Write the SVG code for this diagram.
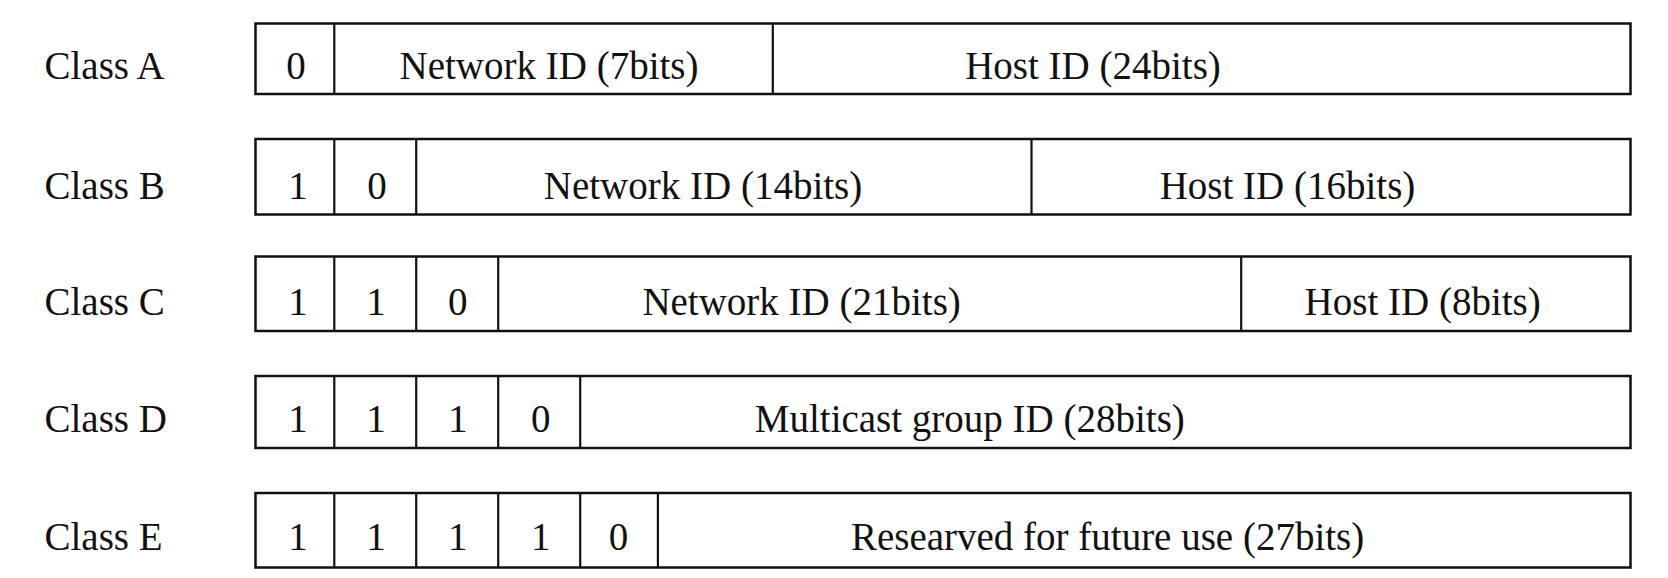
<svg xmlns="http://www.w3.org/2000/svg" width="1668" height="578" viewBox="0 0 1668 578">
<style>
text{font-family:"Liberation Serif","Times New Roman",serif;font-size:39px;fill:#111}
.c{text-anchor:middle}
.box{fill:#fff;stroke:#111;stroke-width:2.5}
.div{stroke:#111;stroke-width:2.2}
</style>
<rect width="1668" height="578" fill="#fff"/>
<g id="classA">
<text x="44.5" y="79">Class A</text>
<rect class="box" x="255.5" y="23.5" width="1375" height="70.5"/>
<line class="div" x1="334.3" y1="23.5" x2="334.3" y2="94"/>
<line class="div" x1="772.8" y1="23.5" x2="772.8" y2="94"/>
<text class="c" x="296" y="79">0</text>
<text class="c" x="549" y="79">Network ID (7bits)</text>
<text class="c" x="1093" y="79">Host ID (24bits)</text>
</g>
<g id="classB">
<text x="44.5" y="199">Class B</text>
<rect class="box" x="255.5" y="139" width="1375" height="75.5"/>
<line class="div" x1="334.3" y1="139" x2="334.3" y2="214.5"/>
<line class="div" x1="416.2" y1="139" x2="416.2" y2="214.5"/>
<line class="div" x1="1031.5" y1="139" x2="1031.5" y2="214.5"/>
<text class="c" x="298" y="199">1</text>
<text class="c" x="377" y="199">0</text>
<text class="c" x="703" y="199">Network ID (14bits)</text>
<text class="c" x="1287.5" y="199">Host ID (16bits)</text>
</g>
<g id="classC">
<text x="44.5" y="315">Class C</text>
<rect class="box" x="255.5" y="256.5" width="1375" height="74.5"/>
<line class="div" x1="334.3" y1="256.5" x2="334.3" y2="331"/>
<line class="div" x1="416.2" y1="256.5" x2="416.2" y2="331"/>
<line class="div" x1="498.2" y1="256.5" x2="498.2" y2="331"/>
<line class="div" x1="1241.2" y1="256.5" x2="1241.2" y2="331"/>
<text class="c" x="298" y="315">1</text>
<text class="c" x="376" y="315">1</text>
<text class="c" x="457.7" y="315">0</text>
<text class="c" x="801.6" y="315">Network ID (21bits)</text>
<text class="c" x="1422.7" y="315">Host ID (8bits)</text>
</g>
<g id="classD">
<text x="44.5" y="432">Class D</text>
<rect class="box" x="255.5" y="376" width="1375" height="72"/>
<line class="div" x1="334.3" y1="376" x2="334.3" y2="448"/>
<line class="div" x1="416.2" y1="376" x2="416.2" y2="448"/>
<line class="div" x1="498.2" y1="376" x2="498.2" y2="448"/>
<line class="div" x1="580.2" y1="376" x2="580.2" y2="448"/>
<text class="c" x="298" y="432">1</text>
<text class="c" x="376" y="432">1</text>
<text class="c" x="457.7" y="432">1</text>
<text class="c" x="540.8" y="432">0</text>
<text class="c" x="969.8" y="432">Multicast group ID (28bits)</text>
</g>
<g id="classE">
<text x="44.5" y="550">Class E</text>
<rect class="box" x="255.5" y="493" width="1375" height="74.5"/>
<line class="div" x1="334.3" y1="493" x2="334.3" y2="567.5"/>
<line class="div" x1="416.2" y1="493" x2="416.2" y2="567.5"/>
<line class="div" x1="498.2" y1="493" x2="498.2" y2="567.5"/>
<line class="div" x1="580.2" y1="493" x2="580.2" y2="567.5"/>
<line class="div" x1="657.9" y1="493" x2="657.9" y2="567.5"/>
<text class="c" x="298" y="550">1</text>
<text class="c" x="376" y="550">1</text>
<text class="c" x="457.7" y="550">1</text>
<text class="c" x="540.8" y="550">1</text>
<text class="c" x="618.5" y="550">0</text>
<text class="c" x="1107.6" y="550">Researved for future use (27bits)</text>
</g>
<g id="connectors"></g>
</svg>
